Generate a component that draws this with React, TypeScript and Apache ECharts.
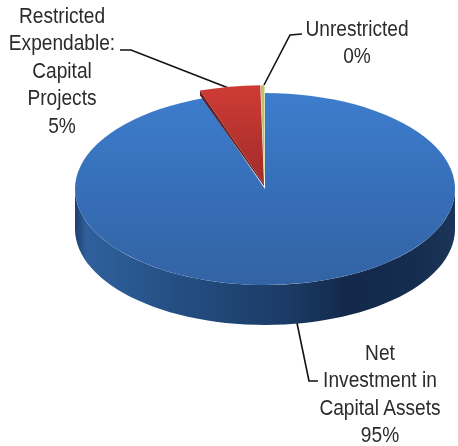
import React, { useEffect, useRef } from "react";
import * as echarts from "echarts";

const categories = ["Net Investment in Capital Assets", "Restricted Expendable: Capital Projects", "Unrestricted"];
const values = [94.7, 5, 0.3];
const percentLabels = ["95%", "5%", "0%"];

const CX = 265, CY = 189, RX = 190, RY = 96, DEPTH = 40;
const total = values.reduce((a, b) => a + b, 0);

const angleAt = (i: number) => {
  let sum = 0;
  for (let k = 0; k < i; k++) sum += values[k];
  return -Math.PI / 2 + (sum / total) * Math.PI * 2;
};

const grad = (x: number, y: number, x2: number, y2: number, stops: [number, string][]) => ({
  type: "linear", x, y, x2, y2,
  colorStops: stops.map(([offset, color]) => ({ offset, color })),
});

const wallPoints = () => {
  const pts: number[][] = [];
  for (let d = 0; d <= 180; d += 3) {
    const a = (d * Math.PI) / 180;
    pts.push([CX + RX * Math.cos(a), CY + RY * Math.sin(a)]);
  }
  for (let d = 180; d >= 0; d -= 3) {
    const a = (d * Math.PI) / 180;
    pts.push([CX + RX * Math.cos(a), CY + DEPTH + RY * Math.sin(a)]);
  }
  return pts;
};

const sector = (start: number, end: number, fill: any, k = 1) => ({
  type: "group", x: 0, y: 0, scaleY: RY / RX,
  children: [{
    type: "sector",
    shape: { cx: 0, cy: 0, r0: 0, r: RX * k, startAngle: start, endAngle: end, clockwise: true },
    style: { fill },
  }],
});

const renderItem = (params: any) => {
  const i = params.dataIndex;
  const start = angleAt(i), end = angleAt(i + 1);
  if (i === 0) {
    return {
      type: "group",
      children: [
        {
          type: "polygon",
          shape: { points: wallPoints() },
          style: {
            fill: grad(0, 0, 1, 0, [[0, "#1d3f6c"], [0.03, "#2f609c"], [0.3, "#234c80"], [0.55, "#1b3c66"], [0.72, "#13284a"], [0.9, "#162d4f"], [1, "#1b3558"]]),
          },
        },
        { type: "group", x: CX, y: CY, children: [sector(start, end, grad(0, 0, 0, 1, [[0, "#3d7dcd"], [0.5, "#376fb8"], [1, "#3263a4"]]))] },
      ],
    };
  }
  const K = 1.03;
  const ox = CX - 1, oy = CY - 5;
  const ex = RX * K * Math.cos(start), ey = RY * K * Math.sin(start);
  if (i === 1) {
    return {
      type: "group",
      children: [
        { type: "polygon", shape: { points: [[ox + ex, oy + ey], [ox + ex, oy + ey + 5], [ox, oy + 2], [ox, oy]] }, style: { fill: "#6e1e1c" } },
        { type: "group", x: ox, y: oy, children: [sector(start, end, grad(0, 0, 0, 1, [[0, "#cf3b35"], [1, "#a02c28"]]), K)] },
      ],
    };
  }
  return { type: "group", x: ox + 0.5, y: oy, children: [sector(start, end, "#b7c46c", K)] };
};

const FONT = '22px "Liberation Sans", Arial, sans-serif';
const label = (text: string, x: number, y: number) => ({
  type: "text", x, y, scaleX: 0.87,
  style: { text, font: FONT, fill: "#2b2b2b", align: "center", verticalAlign: "top", lineHeight: 27.5 },
});
const leader = (points: number[][]) => ({
  type: "polyline",
  shape: { points },
  style: { stroke: "#111111", lineWidth: 1.6, fill: "none" },
});

export default function App() {
  const ref = useRef<HTMLDivElement>(null);
  useEffect(() => {
    document.body.style.margin = "0";
    const chart = echarts.init(ref.current!, undefined, { renderer: "svg" });
    chart.setOption({
      animation: false,
      backgroundColor: "#ffffff",
      series: [{
        type: "custom",
        coordinateSystem: "none",
        renderItem,
        data: values.map((value, i) => ({ name: categories[i], value })),
      }],
      graphic: [
        leader([[120, 50], [131, 50], [231, 89]]),
        leader([[302, 34], [290, 35], [264, 85]]),
        leader([[297, 323], [309, 381], [318, 381]]),
        label(`Restricted\nExpendable:\nCapital\nProjects\n${percentLabels[1]}`, 62, 1),
        label(`Unrestricted\n${percentLabels[2]}`, 357, 14),
        label(`Net\nInvestment in\nCapital Assets\n${percentLabels[0]}`, 380, 338),
      ],
    });
    return () => chart.dispose();
  }, []);
  return <div ref={ref} style={{ width: 458, height: 446, filter: "blur(0.5px)" }} />;
}
